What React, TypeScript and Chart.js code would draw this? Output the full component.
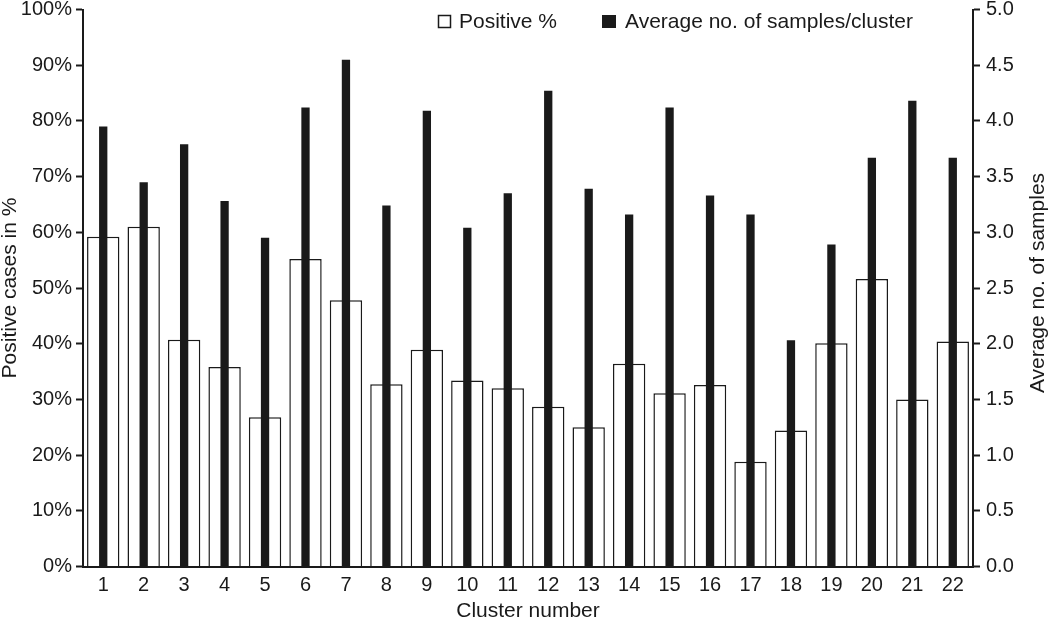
import React, { useEffect, useRef } from "react";
import { Chart, registerables } from "chart.js";

Chart.register(...registerables);

const clusters = ["1","2","3","4","5","6","7","8","9","10","11","12","13","14","15","16","17","18","19","20","21","22"];
const positivePct = [59.2, 61.0, 40.7, 35.8, 26.8, 55.2, 47.8, 32.7, 38.9, 33.4, 32.0, 28.7, 25.0, 36.4, 31.1, 32.6, 18.8, 24.4, 40.1, 51.6, 30.0, 40.4];
const avgSamples = [3.95, 3.45, 3.79, 3.28, 2.95, 4.12, 4.55, 3.24, 4.09, 3.04, 3.35, 4.27, 3.39, 3.16, 4.12, 3.33, 3.16, 2.03, 2.89, 3.67, 4.18, 3.67];
const seriesLabels = ["Positive %", "Average no. of samples/cluster"];
const axisTitles = { x: "Cluster number", left: "Positive cases in %", right: "Average no. of samples" };

const FONT = "'Liberation Sans', Arial, Helvetica, sans-serif";
const INK = "#1a1a1a";

const overlayPlugin = {
  id: "overlay",
  afterDraw(chart: any) {
    const ctx = chart.ctx;
    const area = chart.chartArea;
    ctx.save();
    // legend
    ctx.font = `21px ${FONT}`;
    ctx.textBaseline = "middle";
    ctx.textAlign = "left";
    ctx.lineWidth = 1.5;
    ctx.strokeStyle = INK;
    ctx.fillStyle = "#ffffff";
    ctx.fillRect(438, 15, 13, 13);
    ctx.strokeRect(438.5, 15.5, 12, 12);
    ctx.fillStyle = INK;
    ctx.fillText(seriesLabels[0], 459, 22);
    ctx.fillRect(602, 15, 14, 13);
    ctx.fillText(seriesLabels[1], 625, 22);
    // right axis title (reads bottom to top)
    ctx.translate(1038, (area.top + area.bottom) / 2 - 5);
    ctx.rotate(-Math.PI / 2);
    ctx.textAlign = "center";
    ctx.fillText(axisTitles.right, 0, 0);
    ctx.restore();
  },
};

export default function App() {
  const ref = useRef<HTMLCanvasElement | null>(null);
  useEffect(() => {
    document.body.style.margin = "0";
    const canvas = ref.current;
    if (!canvas) return;
    const chart = new Chart(canvas, {
      type: "bar",
      data: {
        labels: clusters,
        datasets: [
          {
            label: seriesLabels[0],
            data: positivePct,
            yAxisID: "yLeft",
            backgroundColor: "#ffffff",
            borderColor: INK,
            borderWidth: 1.5,
            barPercentage: 0.8,
            categoryPercentage: 1.0,
            grouped: false,
            order: 1,
          },
          {
            label: seriesLabels[1],
            data: avgSamples,
            yAxisID: "yRight",
            backgroundColor: INK,
            borderWidth: 0,
            barPercentage: 0.205,
            categoryPercentage: 1.0,
            grouped: false,
            order: 0,
          },
        ],
      },
      options: {
        responsive: false,
        animation: false,
        devicePixelRatio: 1,
        layout: { padding: { top: 9.5, left: 0, right: 0, bottom: 0 } },
        plugins: {
          legend: { display: false },
          tooltip: { enabled: false },
        },
        scales: {
          x: {
            type: "category",
            offset: true,
            grid: { display: true, drawOnChartArea: false, drawTicks: false },
            border: { display: true, color: INK, width: 2 },
            ticks: { color: INK, font: { family: FONT, size: 20 }, padding: 7, maxRotation: 0, autoSkip: false },
            title: { display: true, text: axisTitles.x, color: INK, font: { family: FONT, size: 21, lineHeight: 1.0 }, padding: { top: 0, bottom: 0 } },
            afterFit: (s: any) => { s.height = 55.5; s.paddingLeft = 0; s.paddingRight = 0; },
          },
          yLeft: {
            type: "linear",
            position: "left",
            min: 0,
            max: 100,
            ticks: { stepSize: 10, color: INK, font: { family: FONT, size: 20 }, padding: 4, callback: (v: any) => `${v}%` },
            grid: { drawOnChartArea: false, drawTicks: true, tickLength: 7, tickColor: INK, tickWidth: 2 },
            border: { display: true, color: INK, width: 2 },
            title: { display: true, text: axisTitles.left, color: INK, font: { family: FONT, size: 21, lineHeight: 1.0 }, padding: { top: 0, bottom: 0 } },
            afterFit: (s: any) => { s.width = 83; s.paddingTop = 0; s.paddingBottom = 0; },
          },
          yRight: {
            type: "linear",
            position: "right",
            min: 0,
            max: 5,
            ticks: { stepSize: 0.5, color: INK, font: { family: FONT, size: 20 }, padding: 6, callback: (v: any) => Number(v).toFixed(1) },
            grid: { drawOnChartArea: false, drawTicks: true, tickLength: 7, tickColor: INK, tickWidth: 2 },
            border: { display: true, color: INK, width: 2 },
            title: { display: false },
            afterFit: (s: any) => { s.width = 77; s.paddingTop = 0; s.paddingBottom = 0; },
          },
        },
      },
      plugins: [overlayPlugin],
    } as any);
    return () => chart.destroy();
  }, []);
  return (
    <div style={{ width: 1050, height: 622, background: "#ffffff" }}>
      <canvas ref={ref} width={1050} height={622} style={{ display: "block" }} />
    </div>
  );
}
